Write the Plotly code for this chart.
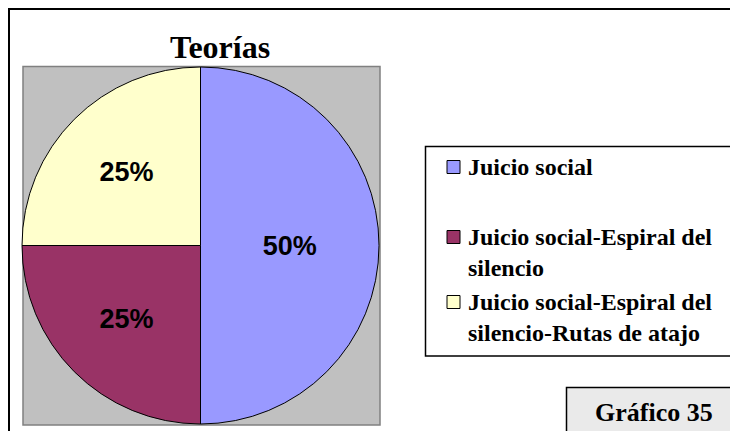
import plotly.graph_objects as go

# Data
categories = [
    "Juicio social",
    "Juicio social-Espiral del silencio",
    "Juicio social-Espiral del silencio-Rutas de atajo",
]
values = [50, 25, 25]
colors = ["#9999FF", "#993366", "#FFFFCC"]
legend_lines = [
    ["Juicio social"],
    ["Juicio social-Espiral del", "silencio"],
    ["Juicio social-Espiral del", "silencio-Rutas de atajo"],
]

W, H = 730, 431


def px(x):
    return x / W


def py(y):
    return 1 - y / H


fig = go.Figure()

fig.add_trace(go.Pie(
    labels=categories,
    values=values,
    marker=dict(colors=colors, line=dict(color="black", width=1)),
    sort=False,
    direction="clockwise",
    rotation=0,
    textinfo="percent",
    texttemplate="<b>%{percent:.0%}</b>",
    textposition="inside",
    insidetextorientation="horizontal",
    textfont=dict(family="Liberation Sans, Arial", size=27, color="black"),
    domain=dict(x=[px(22), px(379)], y=[py(424), py(67)]),
    showlegend=False,
    hoverinfo="label+percent",
))

shapes = [
    # outer chart border
    dict(type="rect", xref="paper", yref="paper",
         x0=px(9), x1=px(740), y0=py(441), y1=py(9),
         line=dict(color="black", width=2), fillcolor="rgba(0,0,0,0)", layer="below"),
    # plot area
    dict(type="rect", xref="paper", yref="paper",
         x0=px(23), x1=px(380), y0=py(425), y1=py(66.5),
         line=dict(color="#808080", width=1.5), fillcolor="#C0C0C0", layer="below"),
    # legend frame
    dict(type="rect", xref="paper", yref="paper",
         x0=px(425.5), x1=px(745), y0=py(356), y1=py(146.5),
         line=dict(color="black", width=1.5), fillcolor="white", layer="below"),
    # caption box
    dict(type="rect", xref="paper", yref="paper",
         x0=px(566.5), x1=px(745), y0=py(445), y1=py(387.5),
         line=dict(color="black", width=1.5), fillcolor="#EAEAEA", layer="below"),
]

annotations = [
    dict(text="<b>Teorías</b>", x=px(220), y=py(47), xref="paper", yref="paper",
         showarrow=False, xanchor="center", yanchor="middle",
         font=dict(family="Liberation Serif, Times New Roman", size=32, color="black")),
    dict(text="<b>Gráfico 35</b>", x=px(654), y=py(412), xref="paper", yref="paper",
         showarrow=False, xanchor="center", yanchor="middle",
         font=dict(family="Liberation Serif, Times New Roman", size=26, color="black")),
]

# legend: marker square and text line centres
marker_y = [167, 237, 302]
line_y = [[167], [237, 268], [302, 333]]
for color, lines, my, ly in zip(colors, legend_lines, marker_y, line_y):
    shapes.append(dict(type="rect", xref="paper", yref="paper",
                       x0=px(447), x1=px(460), y0=py(my + 6.5), y1=py(my - 6.5),
                       line=dict(color="black", width=1), fillcolor=color))
    for text, yy in zip(lines, ly):
        annotations.append(dict(text=f"<b>{text}</b>", x=px(466), y=py(yy),
                                xref="paper", yref="paper", showarrow=False,
                                xanchor="left", yanchor="middle",
                                font=dict(family="Liberation Serif, Times New Roman",
                                          size=24, color="black")))

fig.update_layout(
    width=W, height=H,
    margin=dict(l=0, r=0, t=0, b=0),
    paper_bgcolor="white",
    plot_bgcolor="white",
    shapes=shapes,
    annotations=annotations,
)

fig.write_html("out.html")
